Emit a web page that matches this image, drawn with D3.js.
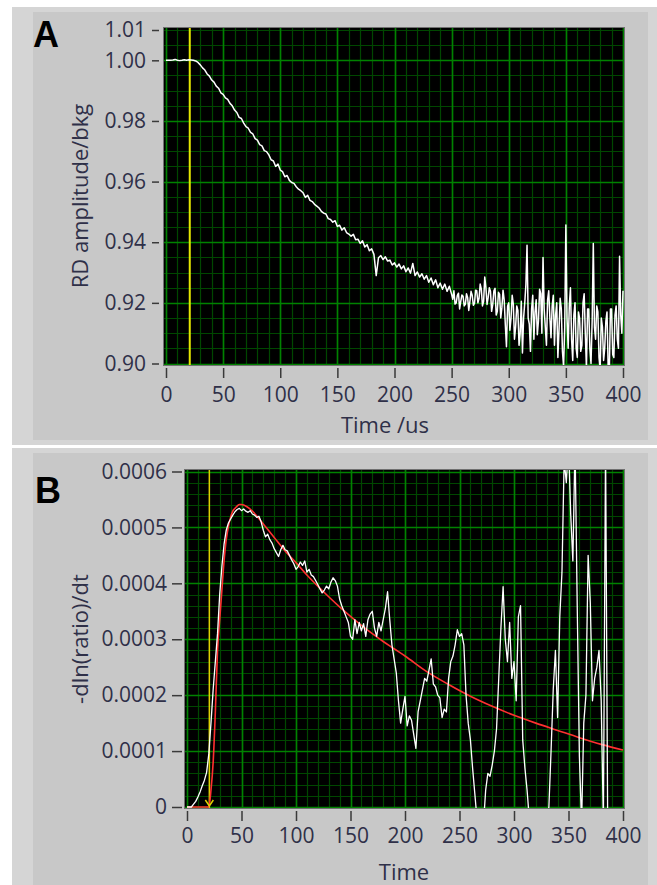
<!DOCTYPE html>
<html>
<head>
<meta charset="utf-8">
<script src="https://cdn.jsdelivr.net/npm/d3@7"></script>
<style>
  body { margin: 0; background: #fff; }
  svg { display: block; }
</style>
</head>
<body>
<svg id="chart" width="657" height="885"></svg>
<script>
// ---------- Data ----------
// Shared time axis (µs)
const xTicks = [0, 50, 100, 150, 200, 250, 300, 350, 400];

// Panel A: ring-down amplitude normalised to background.
// 0–248 µs sampled every 2 µs; 250–400 µs sampled every 1 µs.
const timeStepA = 2;
const ratioA = [
  1.0000, 1.0000, 1.0000, 1.0001, 1.0003, 1.0000, 0.9999, 1.0000, 1.0002, 1.0000,
  1.0002, 1.0001, 1.0000, 0.9998, 0.9993, 0.9985, 0.9975, 0.9968, 0.9955, 0.9948,
  0.9935, 0.9928, 0.9915, 0.9908, 0.9893, 0.9888, 0.9876, 0.9871, 0.9858, 0.9850,
  0.9836, 0.9828, 0.9812, 0.9808, 0.9793, 0.9781, 0.9776, 0.9762, 0.9757, 0.9742,
  0.9737, 0.9722, 0.9718, 0.9702, 0.9699, 0.9688, 0.9672, 0.9668, 0.9650, 0.9658,
  0.9638, 0.9633, 0.9616, 0.9620, 0.9604, 0.9597, 0.9594, 0.9583, 0.9575, 0.9570,
  0.9563, 0.9548, 0.9555, 0.9538, 0.9534, 0.9525, 0.9519, 0.9513, 0.9502, 0.9496,
  0.9493, 0.9478, 0.9475, 0.9466, 0.9471, 0.9452, 0.9456, 0.9440, 0.9448, 0.9432,
  0.9427, 0.9420, 0.9426, 0.9408, 0.9410, 0.9396, 0.9405, 0.9384, 0.9392, 0.9372,
  0.9378, 0.9360, 0.9290, 0.9349, 0.9356, 0.9343, 0.9352, 0.9338, 0.9341, 0.9325,
  0.9332, 0.9318, 0.9328, 0.9312, 0.9322, 0.9303, 0.9315, 0.9298, 0.9330, 0.9290,
  0.9302, 0.9285, 0.9296, 0.9278, 0.9290, 0.9268, 0.9282, 0.9260, 0.9276, 0.9250,
  0.9265, 0.9245, 0.9262, 0.9238, 0.9255
];
const tailStartA = 250;
const tailStepA = 1;
const ratioATail = [
  0.9228, 0.9212, 0.9240, 0.9196, 0.9200, 0.9225, 0.9232, 0.9180, 0.9205, 0.9226,
  0.9222, 0.9190, 0.9195, 0.9230, 0.9218, 0.9175, 0.9205, 0.9238, 0.9225, 0.9192,
  0.9198, 0.9242, 0.9240, 0.9200, 0.9215, 0.9262, 0.9245, 0.9190, 0.9205, 0.9285,
  0.9250, 0.9195, 0.9218, 0.9250, 0.9238, 0.9172, 0.9195, 0.9240, 0.9248, 0.9160,
  0.9172, 0.9235, 0.9228, 0.9150, 0.9185, 0.9242, 0.9210, 0.9128, 0.9055, 0.9190,
  0.9200, 0.9110, 0.9150, 0.9225, 0.9195, 0.9080, 0.9120, 0.9190, 0.9175, 0.9060,
  0.9100, 0.9205, 0.9035, 0.9150, 0.9200, 0.9260, 0.9390, 0.9150, 0.9130, 0.9040,
  0.9180, 0.9225, 0.9080, 0.9170, 0.9210, 0.9095, 0.9140, 0.9245, 0.9230, 0.9100,
  0.9350, 0.9180, 0.9120, 0.9060, 0.9210, 0.9240, 0.9150, 0.9085, 0.9190, 0.9225,
  0.9060, 0.9160, 0.9200, 0.9020, 0.9110, 0.9215, 0.9180, 0.9040, 0.8990, 0.9120,
  0.9457, 0.9150, 0.9050, 0.9190, 0.9250, 0.9080, 0.9010, 0.9160, 0.9200, 0.9050,
  0.9020, 0.9170, 0.9150, 0.9040, 0.9060, 0.9200, 0.9230, 0.9100, 0.8985, 0.9180,
  0.9180, 0.9050, 0.9000, 0.9140, 0.9396, 0.9120, 0.9080, 0.9190, 0.9170, 0.9020,
  0.8980, 0.9150, 0.9120, 0.9010, 0.9050, 0.9140, 0.9170, 0.8990, 0.8970, 0.9180,
  0.9180, 0.9030, 0.9020, 0.9160, 0.9190, 0.9080, 0.9050, 0.9354, 0.9160, 0.9100,
  0.9240
];
const yTicksA = [0.90, 0.92, 0.94, 0.96, 0.98, 1.00, 1.01];
const yTickLabelsA = ["0.90", "0.92", "0.94", "0.96", "0.98", "1.00", "1.01"];
const cursorTimeA = 20.8;

// Panel B: -dln(ratio)/dt, values in units of 1e-4, sampled every 2 µs
const unitB = 1e-4;
const timeStepB = 2;
const dlnRatioB = [
  0, 0, 0, 0.05, 0.10, 0.18, 0.27, 0.38, 0.48, 0.62,
  0.95, 1.50, 2.10, 2.60, 3.10, 3.80, 4.30, 4.70, 4.95, 5.08,
  5.15, 5.22, 5.28, 5.32, 5.34, 5.30, 5.33, 5.29, 5.27, 5.30,
  5.24, 5.22, 5.18, 5.20, 5.10, 4.95, 4.83, 4.88, 4.78, 4.72,
  4.62, 4.55, 4.48, 4.60, 4.68, 4.60, 4.58, 4.50, 4.42, 4.35,
  4.25, 4.30, 4.38, 4.32, 4.40, 4.20, 4.25, 4.15, 4.12, 4.05,
  3.98, 3.90, 3.83, 3.88, 3.95, 3.90, 4.02, 4.10, 4.05, 3.95,
  3.72, 3.60, 3.50, 3.40, 3.30, 3.05, 3.00, 3.35, 3.10, 3.30,
  3.15, 3.28, 3.05, 3.35, 3.45, 3.50, 3.20, 3.05, 3.30, 3.15,
  3.35, 3.55, 3.85, 3.35, 2.90, 2.65, 2.40, 1.90, 1.50, 1.75,
  1.98, 1.45, 1.63, 1.55, 1.30, 1.05, 1.70, 1.90, 2.10, 2.30,
  2.25, 2.45, 2.65, 2.20, 2.15, 2.00, 1.95, 1.60, 1.75, 1.70,
  2.30, 2.60, 2.70, 2.90, 3.17, 3.05, 3.10, 2.90, 2.00, 1.50,
  1.20, 0.70, 0.25, -0.20, -0.50, -0.40, -0.30, 0.30, 0.60, 0.55,
  0.75, 1.00, 1.40, 2.30, 3.20, 3.94, 3.00, 2.60, 3.30, 2.30,
  2.60, 1.90, 3.40, 3.60, 1.20, 0.70, 0.30, -0.20, -0.50, -0.60,
  -0.50, -0.40, -0.50, -0.30, -0.40, -0.20, 0.00, 1.00, 2.10, 2.80,
  1.60, 3.40, 4.20, 6.20, 5.80, 6.50, 5.25, 4.40, 6.50, 3.60,
  0.90, -0.30, 1.50, 2.00, 4.50, 3.65, 1.90, 2.30, 2.50, 2.80,
  1.90, -0.30, 6.50, -0.50
];
// Fitted curve (units of 1e-4)
const fitTimesB = [0, 10, 20, 22, 24, 26, 28, 30, 32, 34, 36, 38, 40, 42, 45, 48, 50, 55, 60,
  70, 80, 90, 100, 110, 120, 130, 140, 150, 160, 170, 180, 190, 200, 220, 240, 260, 280,
  300, 320, 340, 360, 380, 400];
const fitValuesB = [0, 0, 0, 0.30, 0.80, 1.70, 2.80, 3.35, 3.88, 4.40, 4.78, 5.02, 5.18, 5.29,
  5.36, 5.41, 5.41, 5.37, 5.29, 5.06, 4.82, 4.58, 4.37, 4.15, 3.95, 3.76, 3.58, 3.41, 3.25,
  3.10, 2.96, 2.83, 2.70, 2.42, 2.19, 1.98, 1.80, 1.64, 1.50, 1.37, 1.24, 1.12, 1.02];
const yTicksB = [0, 1, 2, 3, 4, 5, 6];
const yTickLabelsB = ["0", "0.0001", "0.0002", "0.0003", "0.0004", "0.0005", "0.0006"];
const cursorTimeB = 20.5;

// ---------- Drawing ----------
const W = 657, H = 885;
const svg = d3.select("#chart");
const tickFont = "'Open Sans', 'Noto Sans', sans-serif";
const textColor = "#2f3048";

svg.append("rect").attr("width", W).attr("height", H).attr("fill", "#fff");

function panelFrame(y0, y1) {
  svg.append("rect").attr("x", 12).attr("y", y0).attr("width", W - 12).attr("height", y1 - y0)
    .attr("fill", "#d5d5d5");
  svg.append("rect").attr("x", 33).attr("y", y0 + 5).attr("width", W - 33 - 9).attr("height", y1 - y0 - 10)
    .attr("fill", "#c8c8c8");
}
panelFrame(7, 445);
panelFrame(448, 890);

function drawPlot(o) {
  const g = svg.append("g");
  const x = d3.scaleLinear().domain([0, 400]).range(o.xRange);
  const y = d3.scaleLinear().domain(o.yDomain).range(o.yRange);
  const [bx0, by0, bx1, by1] = o.box;

  g.append("rect").attr("x", bx0 - 0.5).attr("y", by0 - 0.5)
    .attr("width", bx1 - bx0 + 1).attr("height", by1 - by0 + 1)
    .attr("fill", "#000").attr("stroke", "#707070").attr("stroke-width", 1);

  const clipId = o.id + "-clip";
  svg.append("defs").append("clipPath").attr("id", clipId)
    .append("rect").attr("x", bx0).attr("y", by0).attr("width", bx1 - bx0).attr("height", by1 - by0);
  const plot = g.append("g").attr("clip-path", `url(#${clipId})`);

  // minor grid
  const minorX = x.ticks(40);
  plot.selectAll(".vminor").data(minorX).join("line")
    .attr("x1", d => Math.round(x(d)) + 0.5).attr("x2", d => Math.round(x(d)) + 0.5)
    .attr("y1", by0).attr("y2", by1).attr("stroke", "#004700").attr("stroke-width", 1.2);
  plot.selectAll(".hminor").data(o.minorY).join("line")
    .attr("y1", d => Math.round(y(d)) + 0.5).attr("y2", d => Math.round(y(d)) + 0.5)
    .attr("x1", bx0).attr("x2", bx1).attr("stroke", "#004700").attr("stroke-width", 1.2);
  // major grid
  plot.selectAll(".vmajor").data(xTicks).join("line")
    .attr("x1", d => Math.round(x(d)) + 0.5).attr("x2", d => Math.round(x(d)) + 0.5)
    .attr("y1", by0).attr("y2", by1).attr("stroke", "#008200").attr("stroke-width", 1.6);
  plot.selectAll(".hmajor").data(o.majorY).join("line")
    .attr("y1", d => Math.round(y(d)) + 0.5).attr("y2", d => Math.round(y(d)) + 0.5)
    .attr("x1", bx0).attr("x2", bx1).attr("stroke", "#008200").attr("stroke-width", 1.6);

  // axes
  const xAxis = d3.axisBottom(x).tickValues(xTicks).tickFormat(d3.format("d"))
    .tickSize(10).tickPadding(o.xPad);
  const gx = g.append("g").attr("transform", `translate(0,${o.xAxisY})`).call(xAxis);
  const yAxis = d3.axisLeft(y).tickValues(o.yTicks).tickFormat((d, i) => o.yLabels[i])
    .tickSize(o.yTickLen).tickPadding(o.yPad);
  const gy = g.append("g").attr("transform", `translate(${o.yAxisX},0)`).call(yAxis);
  [gx, gy].forEach(a => {
    a.select(".domain").remove();
    a.selectAll(".tick line").attr("stroke", "#3a3a3a").attr("stroke-width", 1.5);
    a.selectAll(".tick text").attr("fill", textColor).style("font-family", tickFont)
      .style("font-size", "21px");
  });

  // titles
  g.append("text").attr("x", o.xTitle[0]).attr("y", o.xTitle[1]).attr("text-anchor", "middle")
    .attr("fill", textColor).style("font-family", tickFont).style("font-size", "22px").text(o.xLabel);
  g.append("text").attr("transform", `translate(${o.yTitle[0]},${o.yTitle[1]}) rotate(-90)`)
    .attr("text-anchor", "middle").attr("dominant-baseline", "central")
    .attr("fill", textColor).style("font-family", tickFont).style("font-size", "22px").text(o.yLabel);

  return { x, y, plot, g };
}

// Panel A
const A = drawPlot({
  id: "pa", xRange: [166, 623], yDomain: [0.90, 1.01], yRange: [363.5, 30],
  box: [164, 28, 624, 365],
  minorY: d3.range(0, 23).map(i => 0.90 + i * 0.005),
  majorY: yTicksA.slice(0, 6),
  yTicks: yTicksA, yLabels: yTickLabelsA,
  xAxisY: 368, xPad: 9, yAxisX: 159, yTickLen: 7, yPad: 6,
  xTitle: [385, 433], xLabel: "Time /us",
  yTitle: [79, 196], yLabel: "RD amplitude/bkg"
});
A.plot.append("line")
  .attr("x1", A.x(cursorTimeA)).attr("x2", A.x(cursorTimeA)).attr("y1", 28).attr("y2", 365)
  .attr("stroke", "#e6e600").attr("stroke-width", 2);
const pointsA = ratioA.map((v, i) => [i * timeStepA, v])
  .concat(ratioATail.map((v, i) => [tailStartA + i * tailStepA, v]));
A.plot.append("path")
  .datum(pointsA)
  .attr("fill", "none").attr("stroke", "#fff").attr("stroke-width", 1.5)
  .attr("stroke-linejoin", "round")
  .attr("d", d3.line().x(d => A.x(d[0])).y(d => A.y(d[1])));

// Panel B
const B = drawPlot({
  id: "pb", xRange: [187, 623], yDomain: [0, 6], yRange: [807, 471.5],
  box: [185, 470, 624, 808],
  minorY: d3.range(0, 31).map(i => i * 0.2),
  majorY: yTicksB,
  yTicks: yTicksB, yLabels: yTickLabelsB,
  xAxisY: 811, xPad: 7, yAxisX: 182, yTickLen: 10, yPad: 5,
  xTitle: [404, 880], xLabel: "Time",
  yTitle: [79, 639], yLabel: "-dln(ratio)/dt"
});
B.plot.append("line")
  .attr("x1", B.x(cursorTimeB)).attr("x2", B.x(cursorTimeB)).attr("y1", 470).attr("y2", 808)
  .attr("stroke", "#e0d000").attr("stroke-width", 1.5);
B.plot.append("path")
  .datum(fitTimesB.map((t, i) => [t, fitValuesB[i]]))
  .attr("fill", "none").attr("stroke", "#ff3030").attr("stroke-width", 1.6)
  .attr("d", d3.line().curve(d3.curveMonotoneX).x(d => B.x(d[0])).y(d => B.y(d[1])));
B.plot.append("path")
  .datum(dlnRatioB.map((v, i) => [i * timeStepB, v]))
  .attr("fill", "none").attr("stroke", "#fff").attr("stroke-width", 1.3)
  .attr("stroke-linejoin", "round")
  .attr("d", d3.line().x(d => B.x(d[0])).y(d => B.y(d[1])));
// cursor marker at the bottom of the cursor line
B.plot.append("path")
  .attr("transform", `translate(${B.x(cursorTimeB)},${B.y(0)})`)
  .attr("d", "M-4,-7 L0,-1 L4,-7")
  .attr("fill", "none").attr("stroke", "#e0d000").attr("stroke-width", 1.5);

// Panel letters
svg.append("text").attr("x", 33).attr("y", 47)
  .style("font-family", "'Liberation Sans', Arial, sans-serif").style("font-weight", "bold")
  .style("font-size", "36px").attr("fill", "#000").text("A");
svg.append("text").attr("x", 35).attr("y", 503)
  .style("font-family", "'Liberation Sans', Arial, sans-serif").style("font-weight", "bold")
  .style("font-size", "36px").attr("fill", "#000").text("B");
</script>
</body>
</html>
